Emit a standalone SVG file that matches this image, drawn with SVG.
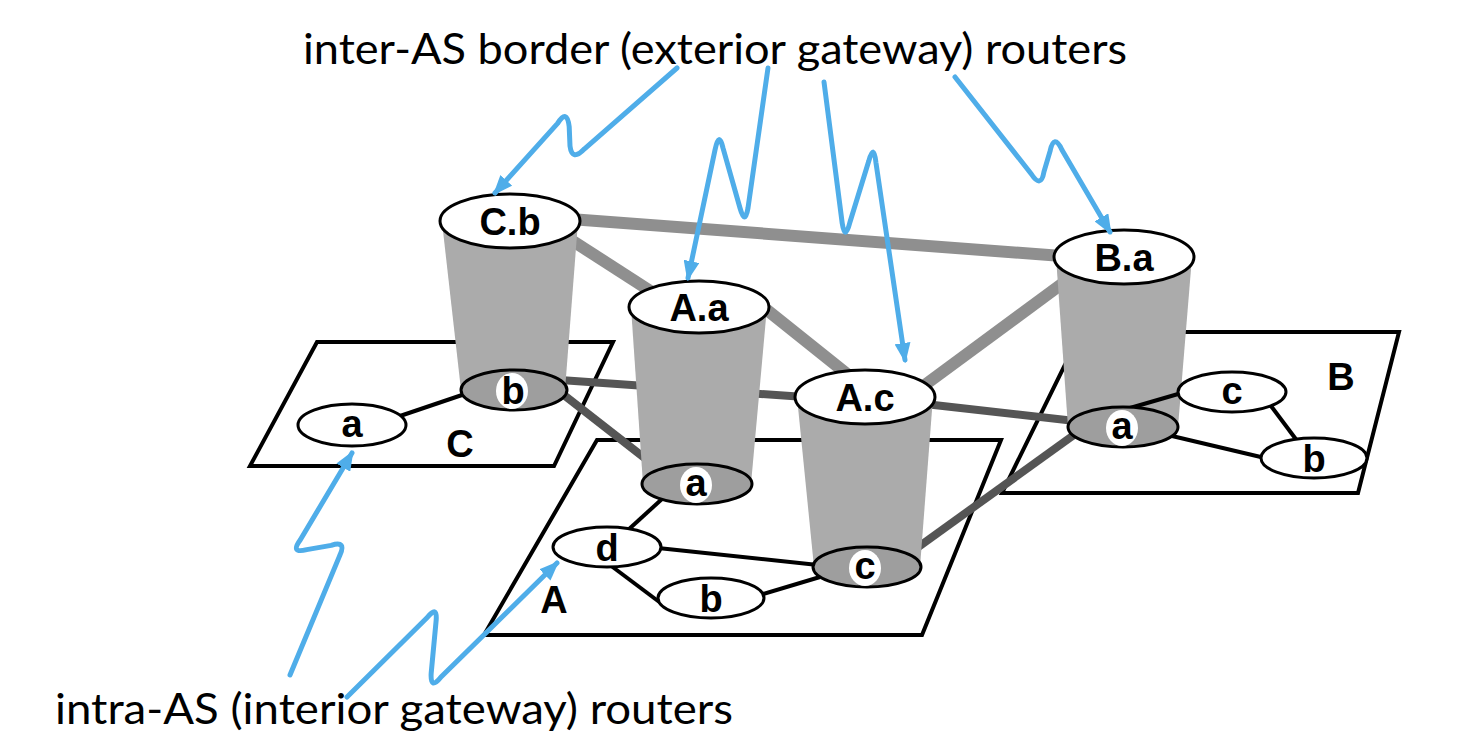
<svg xmlns="http://www.w3.org/2000/svg" width="1460" height="740" viewBox="0 0 1460 740">
<style>
.plane{fill:#fff;stroke:#000;stroke-width:4;stroke-linejoin:miter}
.light{stroke:#8f8f8f;stroke-width:12;fill:none}
.dark{stroke:#555;stroke-width:8;fill:none}
.intra{stroke:#000;stroke-width:4;fill:none}
.cone{fill:#ababab;stroke:none}
.top{fill:#fff;stroke:#000;stroke-width:3}
.bot{fill:#9e9e9e;stroke:#000;stroke-width:3}
.small{fill:#fff;stroke:#000;stroke-width:3}
.lbl{font-family:"Liberation Sans",Arial,sans-serif;font-weight:bold;font-size:38px;fill:#000;text-anchor:middle}
.plbl{font-family:"Liberation Sans",Arial,sans-serif;font-weight:bold;font-size:38px;fill:#000;text-anchor:middle}
.cap{font-family:Lato,"Open Sans",sans-serif;font-size:42px;fill:#000}
.blue{stroke:#4fade9;stroke-width:5;fill:none;stroke-linejoin:round;stroke-linecap:round}
</style>
<defs>
<marker id="ah" markerUnits="userSpaceOnUse" markerWidth="20" markerHeight="16" viewBox="0 0 20 16" refX="17" refY="8" orient="auto">
<path d="M0,0 L20,8 L0,16 Z" fill="#4fade9"/>
</marker>
</defs>

<g id="planes">
<polygon id="plane-C" class="plane" points="317,342 613,342 554,466 250,466"/>
<polygon id="plane-A" class="plane" points="597,440 1001,440 922,635 484,635"/>
<polygon id="plane-B" class="plane" points="1081,332 1399,332 1358,493 1002,493"/>
</g>

<g id="connectors">
<line class="light" x1="570" y1="219" x2="1062" y2="256"/>
<line class="light" x1="565" y1="236" x2="655" y2="294"/>
<line class="light" x1="762" y1="306" x2="852" y2="378"/>
<line class="light" x1="918" y1="390" x2="1078" y2="272"/>
<line class="dark" x1="560" y1="380" x2="805" y2="397"/>
<line class="dark" x1="560" y1="392" x2="660" y2="470"/>
<line class="dark" x1="925" y1="404" x2="1075" y2="421"/>
<line class="dark" x1="910" y1="553" x2="1078" y2="432"/>
</g>

<g id="cones">
<polygon class="cone" points="442,222 578,222 565,390 461,390"/>
<polygon class="cone" points="631,307 767,307 751,484 643,484"/>
<polygon class="cone" points="797,397 933,397 920,567 814,567"/>
<polygon class="cone" points="1056,257 1192,257 1178,427 1068,427"/>
</g>

<g id="intra-links">
<line class="intra" x1="400" y1="416" x2="465" y2="394"/>
<line class="intra" x1="662" y1="499" x2="628" y2="530"/>
<line class="intra" x1="658" y1="548" x2="818" y2="565"/>
<line class="intra" x1="610" y1="565" x2="662" y2="604"/>
<line class="intra" x1="760" y1="595" x2="820" y2="577"/>
<line class="intra" x1="1130" y1="408" x2="1185" y2="392"/>
<line class="intra" x1="1172" y1="436" x2="1265" y2="458"/>
<line class="intra" x1="1268" y1="402" x2="1298" y2="442"/>
</g>

<g id="node-Cb">
<ellipse class="bot" cx="514" cy="390" rx="53" ry="20"/>
<ellipse cx="512" cy="391" rx="16" ry="18" fill="#fff"/>
<text class="lbl" x="513" y="404">b</text>
<ellipse class="top" cx="510" cy="221" rx="70" ry="27"/>
<text class="lbl" x="510" y="235">C.b</text>
</g>
<g id="node-Aa">
<ellipse class="bot" cx="697" cy="484" rx="55" ry="20"/>
<ellipse cx="696" cy="485" rx="16" ry="18" fill="#fff"/>
<text class="lbl" x="696" y="496">a</text>
<ellipse class="top" cx="699" cy="307" rx="70" ry="26"/>
<text class="lbl" x="699" y="321">A.a</text>
</g>
<g id="node-Ac">
<ellipse class="bot" cx="867" cy="567" rx="54" ry="20"/>
<ellipse cx="865" cy="568" rx="16" ry="18" fill="#fff"/>
<text class="lbl" x="865" y="579">c</text>
<ellipse class="top" cx="865" cy="397" rx="70" ry="27"/>
<text class="lbl" x="865" y="411">A.c</text>
</g>
<g id="node-Ba">
<ellipse class="bot" cx="1123" cy="427" rx="55" ry="20"/>
<ellipse cx="1122" cy="428" rx="16" ry="18" fill="#fff"/>
<text class="lbl" x="1122" y="439">a</text>
<ellipse class="top" cx="1124" cy="257" rx="70" ry="27"/>
<text class="lbl" x="1124" y="271">B.a</text>
</g>
<g id="node-Ca">
<ellipse class="small" cx="352" cy="425" rx="54" ry="21"/>
<text class="lbl" x="352" y="437">a</text>
</g>
<g id="node-Ad">
<ellipse class="small" cx="607" cy="547" rx="54" ry="20"/>
<text class="lbl" x="607" y="561">d</text>
</g>
<g id="node-Ab">
<ellipse class="small" cx="711" cy="598" rx="53" ry="20"/>
<text class="lbl" x="711" y="612">b</text>
</g>
<g id="node-Bc">
<ellipse class="small" cx="1232" cy="392" rx="54" ry="20"/>
<text class="lbl" x="1232" y="404">c</text>
</g>
<g id="node-Bb">
<ellipse class="small" cx="1314" cy="458" rx="53" ry="20"/>
<text class="lbl" x="1314" y="472">b</text>
</g>

<g id="plane-labels">
<text class="plbl" x="460" y="457">C</text>
<text class="plbl" x="554" y="613">A</text>
<text class="plbl" x="1341" y="390">B</text>
</g>

<g id="captions">
<text class="cap" x="303" y="64" textLength="824" lengthAdjust="spacingAndGlyphs">inter-AS border (exterior gateway) routers</text>
<text class="cap" x="55" y="724" textLength="678" lengthAdjust="spacingAndGlyphs">intra-AS (interior gateway) routers</text>
</g>

<g id="pointer-arrows">
<path class="blue" marker-end="url(#ah)" d="M677,68 L584.5,148.8 Q572,162 570,146 L569.2,126.8 Q567,108 557.6,123.4 L495,193"/>
<path class="blue" marker-end="url(#ah)" d="M768,68 L748,208 Q745,226 740,208 L723.1,148.4 Q719,130 715,150 L688,278"/>
<path class="blue" marker-end="url(#ah)" d="M824,82 L842.2,223.1 Q845,242 850,222 L868.7,161.3 Q874,142 876,163 L905,360"/>
<path class="blue" marker-end="url(#ah)" d="M955,77 L1031.3,174 Q1041,189 1044,171.6 L1050,151.4 Q1054,133 1062,150 L1110,232"/>
<path class="blue" marker-end="url(#ah)" d="M290,675 L339.6,555.9 Q347,540 331.2,545.4 L306.8,549.6 Q290,554 300.2,540 L352,453"/>
<path class="blue" marker-end="url(#ah)" d="M347,697 L427,617.8 Q438,604 436,622 L431.2,673 Q430,691 441,677 L557,563"/>
</g>
</svg>
